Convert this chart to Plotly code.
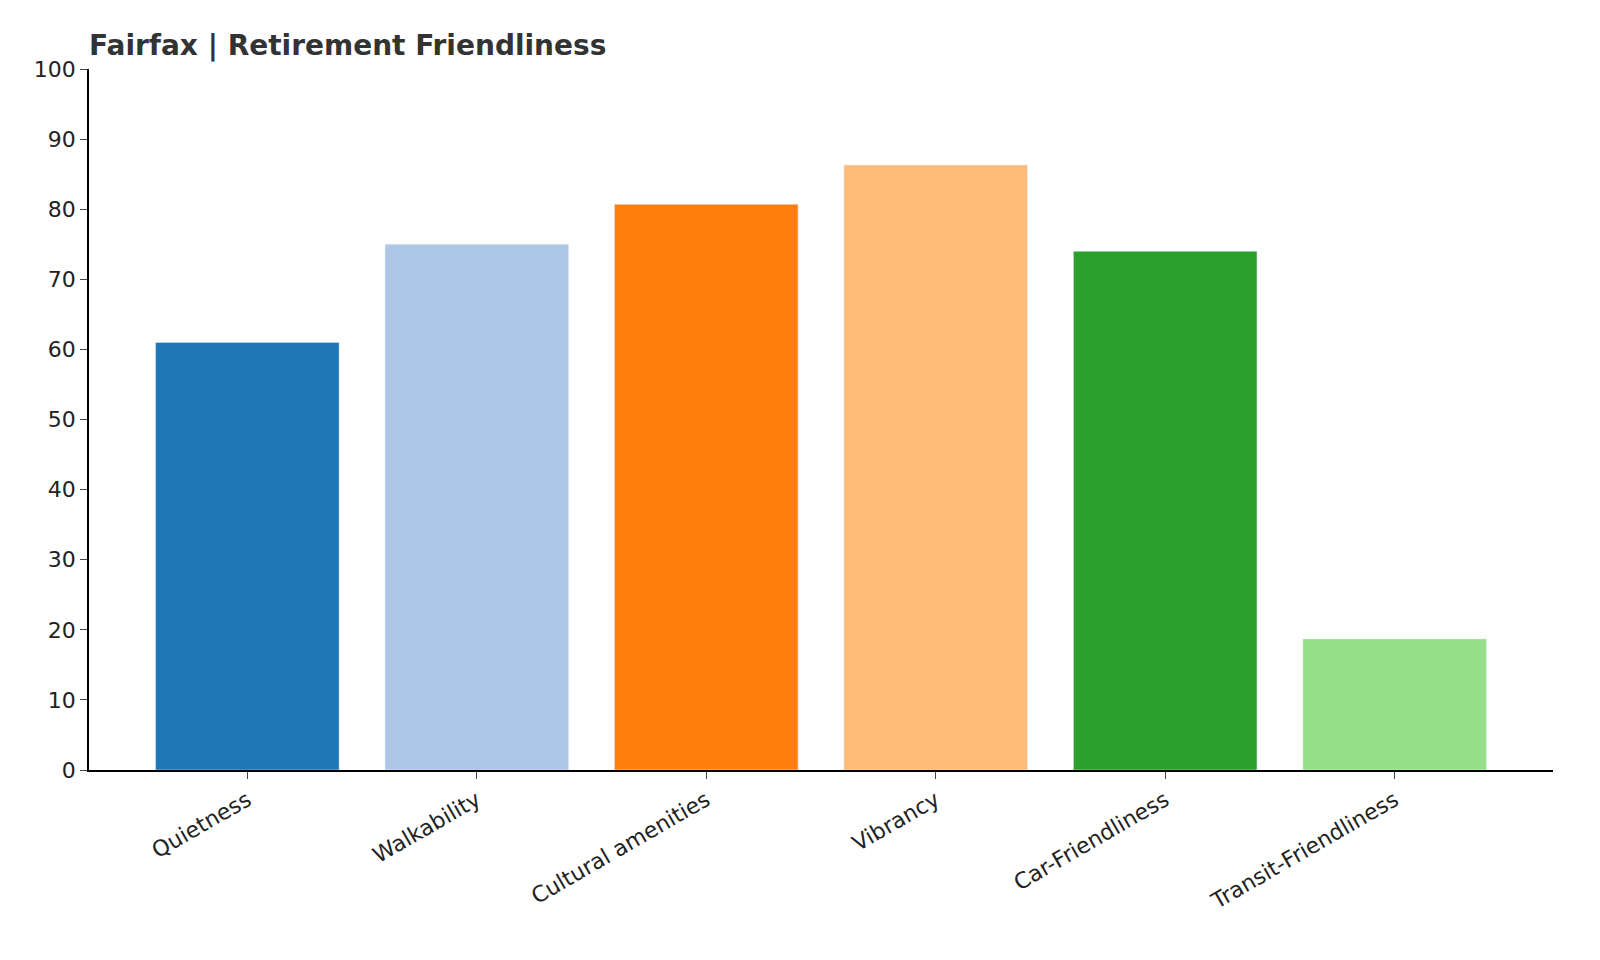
import plotly.graph_objects as go

categories = ["Quietness", "Walkability", "Cultural amenities", "Vibrancy",
              "Car-Friendliness", "Transit-Friendliness"]
scores = [61, 75, 80.7, 86.3, 74, 18.7]
colors = ["#1f77b4", "#aec7e8", "#ff7f0e", "#ffbb78", "#2ca02c", "#98df8a"]

fig = go.Figure(go.Bar(x=categories, y=scores, marker_color=colors, width=0.8))

fig.update_layout(
    width=1600, height=960,
    paper_bgcolor="white", plot_bgcolor="white",
    margin=dict(l=81, r=55, t=61, b=198),
    font=dict(family="DejaVu Sans", size=22, color="#222"),
    title=dict(text="<b>Fairfax | Retirement Friendliness</b>", x=81/1600, xanchor="left",
               y=1 - 37/960, yanchor="middle", font=dict(size=28, color="#333")),
    showlegend=False,
)
fig.update_xaxes(range=[-0.69, 5.69], tickangle=-30, ticks="outside", ticklen=7,
                 showline=True, linecolor="black", linewidth=1.5, showgrid=False)
fig.update_yaxes(range=[0, 100], dtick=10, ticks="outside", ticklen=7,
                 showline=True, linecolor="black", linewidth=1.5, showgrid=False,
                 zeroline=False)

fig.write_html("out.html")
